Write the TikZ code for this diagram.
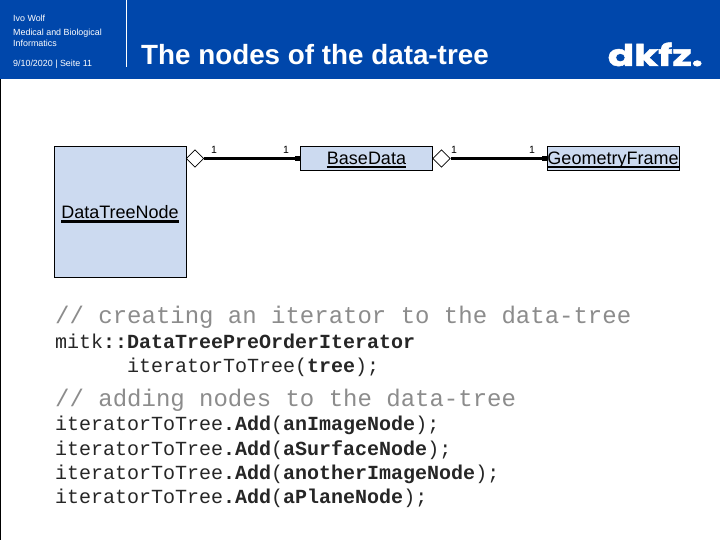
\documentclass[tikz,border=0pt]{standalone}
\usepackage{fontspec}
\setmainfont{Liberation Sans}
\setmonofont{Liberation Mono}
\newfontfamily\logofont[BoldFeatures={FakeBold=1.6}]{Poppins}
\usetikzlibrary{shapes.geometric}
\definecolor{hdr}{HTML}{0047AB}
\definecolor{boxfill}{HTML}{CCDAF0}
\definecolor{cmt}{HTML}{8C8C8C}
\definecolor{codetxt}{HTML}{262626}
\newcommand{\ulthick}[2]{\smash{\raisebox{-#1}{\setbox0\hbox{#2}\rlap{\vrule width \wd0 height -1.2pt depth 4pt}\box0}}}
\tikzset{
  px/.style={x=1pt,y=-1pt},
  umlbox/.style={draw=black,line width=0.9pt,fill=boxfill,inner sep=0pt,font=\fontsize{18}{18}\selectfont},
  diam/.style={draw=black,line width=0.7pt,fill=white,diamond,shape aspect=1,inner sep=0pt,minimum width=17.5pt,minimum height=17.5pt},
  assoc/.style={draw=black,line width=2.2pt},
  endsq/.style={fill=black,inner sep=0pt,minimum size=4.5pt},
  mult/.style={font=\fontsize{10.5}{11}\selectfont,inner sep=0pt},
  hdrtxt/.style={text=white,anchor=base west,inner sep=0pt,font=\fontsize{8.9}{9}\selectfont},
  code/.style={anchor=base west,inner sep=0pt,text=codetxt,font=\ttfamily\fontsize{20}{20}\selectfont},
  cmtline/.style={anchor=base west,inner sep=0pt,text=cmt,font=\ttfamily\fontsize{24}{24}\selectfont},
}
\begin{document}
\begin{tikzpicture}[px]
\useasboundingbox (0,0) rectangle (720,540);
\fill[white] (0,0) rectangle (720,540);
\fill[hdr] (0,0) rectangle (720,79);
\fill[black] (0,79) rectangle (1.2,540);
\fill[white] (126,0) rectangle (127,67);
\node[hdrtxt] (h1) at (13,21.5) {Ivo Wolf};
\node[hdrtxt] (h2) at (13,35.5) {Medical and Biological};
\node[hdrtxt] (h3) at (13,46.5) {Informatics};
\node[hdrtxt] (h4) at (13,66.5) {9/10/2020 | Seite 11};
\node[anchor=base west,inner sep=0pt,text=white,font=\bfseries\fontsize{27.8}{28}\selectfont] (title) at (141,64.5) {The nodes of the data-tree};
\node[anchor=base east,inner sep=0pt,text=white,xscale=1.3,font=\logofont\bfseries\fontsize{30}{30}\selectfont] (logo) at (703,66) {dkfz.};

\node[umlbox,minimum width=132pt,minimum height=131pt] (dtn) at (120,211.5) {\ulthick{7pt}{DataTreeNode}};
\node[umlbox,minimum width=132.5pt,minimum height=24.5pt] (bd) at (366.5,158.5) {\ulthick{6pt}{BaseData}};
\node[umlbox,minimum width=132pt,minimum height=24.5pt] (gf) at (613,158.5) {\ulthick{6pt}{GeometryFrame}};
\node[diam] (d1) at (195,158.5) {};
\node[diam] (d2) at (441.5,158.5) {};
\node[endsq,anchor=east] (s1) at (300,158.5) {};
\node[endsq,anchor=east] (s2) at (547,158.5) {};
\draw[assoc] (d1.east) -- (s1.west);
\draw[assoc] (d2.east) -- (s2.west);
\node[mult] (m1) at (214,150) {1};
\node[mult] (m2) at (286,150) {1};
\node[mult] (m3) at (454,150) {1};
\node[mult] (m4) at (532,150) {1};

\node[cmtline] (c1) at (55,323) {// creating an iterator to the data-tree};
\node[code] (l1) at (55,348) {mitk\textbf{::DataTreePreOrderIterator}};
\node[code] (l2) at (127,372.5) {iteratorToTree(\textbf{tree});};
\node[cmtline] (c2) at (55,406) {// adding nodes to the data-tree};
\node[code] (l3) at (55,430.5) {iteratorToTree\textbf{.Add}(\textbf{anImageNode});};
\node[code] (l4) at (55,455) {iteratorToTree\textbf{.Add}(\textbf{aSurfaceNode});};
\node[code] (l5) at (55,479) {iteratorToTree\textbf{.Add}(\textbf{anotherImageNode});};
\node[code] (l6) at (55,503.5) {iteratorToTree\textbf{.Add}(\textbf{aPlaneNode});};
\end{tikzpicture}
\end{document}
